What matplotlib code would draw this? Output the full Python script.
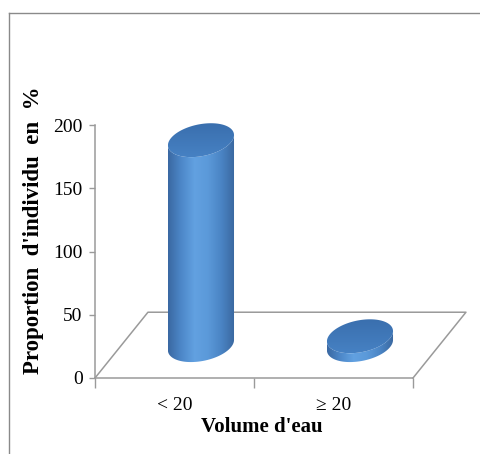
import numpy as np
import matplotlib
matplotlib.use("Agg")
import matplotlib.pyplot as plt
from matplotlib.patches import Polygon
from matplotlib.colors import LinearSegmentedColormap
from matplotlib.lines import Line2D

categories = ["< 20", "\u2265 20"]
values = [162, 7]
yticks = [0, 50, 100, 150, 200]

plt.rcParams["font.family"] = ["Liberation Serif", "DejaVu Serif"]

# oblique depth of the floor and cylinder geometry (data units)
DEPTH_X, DEPTH_Y = 0.333, 52.0
RAD_X = 0.198
RAD_B = (0.063, 13.4)
GRID = "#9a9a9a"
YMAX = 215

side_cmap = LinearSegmentedColormap.from_list(
    "side", ["#3a68a2", "#4d88c9", "#62a1e1", "#5b99d9", "#4a84c4", "#3a679f"])
top_cmap = LinearSegmentedColormap.from_list("top", ["#3a6fae", "#4681c3"])

fig = plt.figure(figsize=(4.81, 4.54), dpi=100)
px_per_unit = 253 / 200
ax = fig.add_axes([95 / 481, 76 / 454, 318 / 481, YMAX * px_per_unit / 454])
ax.set_xlim(-0.5, 1.5)
ax.set_ylim(0, YMAX)

# outer chart border
fig.add_artist(Line2D([9 / 481, 1.0], [1 - 13 / 454] * 2, color="#8a8a8a", lw=1))
fig.add_artist(Line2D([9 / 481] * 2, [0, 1 - 13 / 454], color="#8a8a8a", lw=1))

# floor (back edge and sides)
x0, x1 = -0.5, 1.5
ax.plot([x0, x0 + DEPTH_X, x1 + DEPTH_X, x1], [0, DEPTH_Y, DEPTH_Y, 0],
        color=GRID, lw=1.1, clip_on=False, zorder=1)


def ellipse(cx, cy, t):
    return (cx + RAD_X * np.cos(t) + RAD_B[0] * np.sin(t),
            cy + RAD_B[1] * np.sin(t))


def cylinder(i, v):
    cx = i + DEPTH_X / 2
    cy = DEPTH_Y / 2
    t0 = np.arctan2(RAD_B[0], RAD_X)
    front = np.linspace(t0, t0 - np.pi, 80)
    bx, by = ellipse(cx, cy, front)
    tx, ty = ellipse(cx, cy + v, front[::-1])
    side = Polygon(np.column_stack([np.r_[bx, tx], np.r_[by, ty]]),
                   closed=True, facecolor="none", edgecolor="none")
    ax.add_patch(side)
    xmin, xmax = bx.min(), bx.max()
    grad = np.linspace(0, 1, 256)[None, :]
    im = ax.imshow(grad, cmap=side_cmap, aspect="auto",
                   extent=[xmin, xmax, by.min() - 1, cy + v + RAD_B[1] + 1],
                   zorder=3)
    im.set_clip_path(side)
    full = np.linspace(0, 2 * np.pi, 160)
    ex, ey = ellipse(cx, cy + v, full)
    top = Polygon(np.column_stack([ex, ey]), closed=True,
                  facecolor="none", edgecolor="none", zorder=4)
    ax.add_patch(top)
    tim = ax.imshow(np.linspace(0, 1, 64)[:, None], cmap=top_cmap, aspect="auto",
                    extent=[ex.min(), ex.max(), ey.min(), ey.max()],
                    origin="upper", zorder=4)
    tim.set_clip_path(top)


for i, v in enumerate(values):
    cylinder(i, v)

ax.set_xlim(-0.5, 1.5)
ax.set_ylim(0, YMAX)

for s in ["top", "right"]:
    ax.spines[s].set_visible(False)
for s in ["left", "bottom"]:
    ax.spines[s].set_color(GRID)
    ax.spines[s].set_linewidth(1.1)
ax.spines["left"].set_bounds(0, 200)

ax.set_yticks(yticks)
ax.tick_params(axis="y", length=4, width=1, color=GRID, pad=5, labelsize=14)
ax.set_xticks(range(len(categories)))
ax.set_xticklabels(categories)
ax.set_xticks([-0.5, 0.5, 1.5], minor=True)
ax.tick_params(axis="x", which="major", length=0, pad=14, labelsize=14)
ax.tick_params(axis="x", which="minor", length=7, width=1, color=GRID)

ax.set_ylabel("Proportion  d'individu  en  %", fontsize=16.5, fontweight="bold")
ax.yaxis.set_label_coords(-0.16, 0.585 * 200 / YMAX)
ax.set_xlabel("Volume d'eau", fontsize=15, fontweight="bold")
ax.xaxis.set_label_coords(0.525, -0.153 * 200 / YMAX)

fig.savefig("out.png", dpi=100)
